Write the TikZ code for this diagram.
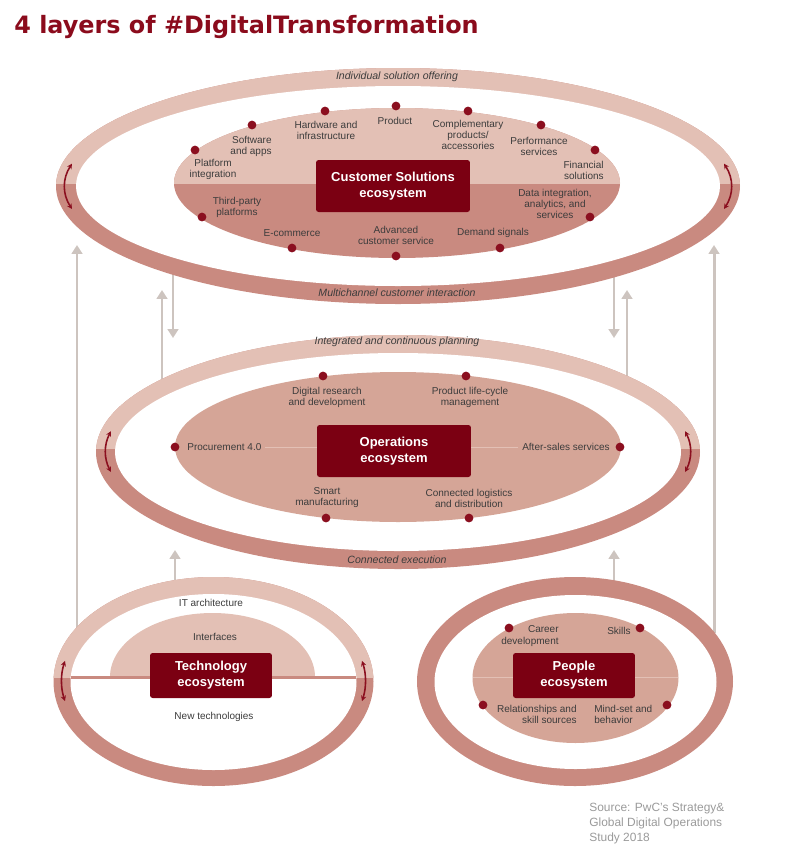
\documentclass[tikz,border=0pt]{standalone}
\usepackage{fontspec}
\setmainfont{Liberation Sans}
\newfontfamily\titlefont{DejaVu Sans}
\usetikzlibrary{arrows.meta}
\definecolor{pinklight}{HTML}{E3C0B5}
\definecolor{pinkdark}{HTML}{C98A80}
\definecolor{pinkmid}{HTML}{D5A597}
\definecolor{boxred}{HTML}{7B0012}
\definecolor{dotred}{HTML}{8B0F1F}
\definecolor{titlered}{HTML}{8B0B1C}
\definecolor{arrowgray}{HTML}{CDC4BF}
\definecolor{textgray}{HTML}{3C3C3C}
\definecolor{srcgray}{HTML}{9A9A9A}
\tikzset{
	titlestyle/.style={inner sep=0pt,text=titlered,font=\titlefont\bfseries\fontsize{13.6}{16}\selectfont},
	dotstyle/.style={circle,fill=dotred,inner sep=0pt,minimum size=5pt},
	labelstyle/.style={inner sep=0pt,text=textgray,font=\fontsize{5.7}{6.3}\selectfont},
	ringlabel/.style={inner sep=0pt,text=textgray,font=\fontsize{6}{7}\selectfont\itshape},
	bigbox/.style={rectangle,rounded corners=1.5pt,fill=boxred,text=white,align=center,minimum width=3.08cm,minimum height=1.04cm,font=\fontsize{7.4}{9}\selectfont\bfseries},
	smallbox/.style={bigbox,minimum width=2.44cm,minimum height=0.9cm},
	grayarrow/.style={draw=arrowgray,line width=1.7pt,-{Triangle[length=5pt,width=6pt]}},
	turnarrow/.style={draw=dotred,line width=0.9pt,{Stealth[length=3pt,width=3pt]}-{Stealth[length=3pt,width=3pt]}},
	splitline/.style={draw=pinklight,line width=0.4pt},
	sourcestyle/.style={inner sep=0pt,text=srcgray,align=left,font=\fontsize{6.8}{8.6}\selectfont}
}
\begin{document}
\begin{tikzpicture}[x=0.02cm,y=-0.02cm]
	\useasboundingbox (0,0) rectangle (792,849);
	\node[titlestyle,anchor=base west] (title) at (14,33) {4 layers of \#DigitalTransformation};
	\coordinate (lt1) at (77,628);
	\coordinate (lt2) at (77,245);
	\coordinate (lm1) at (162,382);
	\coordinate (lm2) at (162,290);
	\coordinate (ld1) at (173,273);
	\coordinate (ld2) at (173,338);
	\coordinate (rd1) at (614,273);
	\coordinate (rd2) at (614,338);
	\coordinate (rm1) at (627,382);
	\coordinate (rm2) at (627,290);
	\coordinate (rt1) at (714,633);
	\coordinate (rt2) at (714,245);
	\coordinate (tm1) at (175,581);
	\coordinate (tm2) at (175,550);
	\coordinate (pm1) at (614,581);
	\coordinate (pm2) at (614,550);
	\draw[grayarrow] (lt1)--(lt2);
	\draw[grayarrow] (lm1)--(lm2);
	\draw[grayarrow] (ld1)--(ld2);
	\draw[grayarrow] (rd1)--(rd2);
	\draw[grayarrow] (rm1)--(rm2);
	\draw[grayarrow] (rt1)--(rt2);
	\draw[grayarrow] (tm1)--(tm2);
	\draw[grayarrow] (pm1)--(pm2);
	\fill[pinkdark] (398,186) ellipse [x radius=342,y radius=118];
	\begin{scope}
		\clip (0,0) rectangle (792,183);
		\fill[pinklight] (398,186) ellipse [x radius=342,y radius=118];
	\end{scope}
	\fill[white] (398,186) ellipse [x radius=322,y radius=100];
	\fill[pinkdark] (397,183) ellipse [x radius=223,y radius=75];
	\begin{scope}
		\clip (0,0) rectangle (792,183);
		\fill[pinklight] (397,183) ellipse [x radius=223,y radius=75];
	\end{scope}
	\coordinate (csl) at (72,209);
	\coordinate (csr) at (724,209);
	\draw[turnarrow] (csl) arc [start angle=168,end angle=192,x radius=333,y radius=109];
	\draw[turnarrow] (csr) arc [start angle=12,end angle=-12,x radius=333,y radius=109];
	\node[ringlabel] (offer) at (397,77) {Individual solution offering};
	\node[ringlabel] (multi) at (397,293) {Multichannel customer interaction};
	\node[bigbox] (cs) at (393,186) {Customer Solutions\\ecosystem};
	\node[dotstyle] (d1) at (195,150) {};
	\node[dotstyle] (d2) at (252,125) {};
	\node[dotstyle] (d3) at (325,111) {};
	\node[dotstyle] (d4) at (396,106) {};
	\node[dotstyle] (d5) at (468,111) {};
	\node[dotstyle] (d6) at (541,125) {};
	\node[dotstyle] (d7) at (595,150) {};
	\node[dotstyle] (d8) at (590,217) {};
	\node[dotstyle] (d9) at (500,248) {};
	\node[dotstyle] (d10) at (396,256) {};
	\node[dotstyle] (d11) at (292,248) {};
	\node[dotstyle] (d12) at (202,217) {};
	\node[labelstyle,align=center] (plat) at (213,169) {Platform\\integration};
	\node[labelstyle,align=right,anchor=east] (soft) at (272,146) {Software\\and apps};
	\node[labelstyle,align=center] (hard) at (326,130) {Hardware and\\infrastructure};
	\node[labelstyle] (prod) at (395,121) {Product};
	\node[labelstyle,align=center] (comp) at (468,135) {Complementary\\products/\\accessories};
	\node[labelstyle,align=center] (perf) at (539,146) {Performance\\services};
	\node[labelstyle,align=right,anchor=east] (fin) at (604,170) {Financial\\solutions};
	\node[labelstyle,align=center] (data) at (555,204) {Data integration,\\analytics, and\\services};
	\node[labelstyle] (dem) at (493,233) {Demand signals};
	\node[labelstyle,align=center] (adv) at (396,235) {Advanced\\customer service};
	\node[labelstyle] (ecom) at (292,233) {E-commerce};
	\node[labelstyle,align=center] (third) at (237,207) {Third-party\\platforms};
	\fill[pinkdark] (398,452) ellipse [x radius=302,y radius=117];
	\begin{scope}
		\clip (0,0) rectangle (792,448);
		\fill[pinklight] (398,452) ellipse [x radius=302,y radius=117];
	\end{scope}
	\fill[white] (398,452) ellipse [x radius=283,y radius=99];
	\fill[pinkmid] (398,447) ellipse [x radius=223,y radius=75];
	\coordinate (opl) at (111,472);
	\coordinate (opr) at (685,472);
	\draw[turnarrow] (opl) arc [start angle=169,end angle=191,x radius=292,y radius=107];
	\draw[turnarrow] (opr) arc [start angle=11,end angle=-11,x radius=292,y radius=107];
	\node[ringlabel] (plan) at (397,342) {Integrated and continuous planning};
	\node[ringlabel] (exec) at (397,560) {Connected execution};
	\node[dotstyle] (o1) at (175,447) {};
	\node[dotstyle] (o2) at (620,447) {};
	\node[dotstyle] (o3) at (323,376) {};
	\node[dotstyle] (o4) at (466,376) {};
	\node[dotstyle] (o5) at (326,518) {};
	\node[dotstyle] (o6) at (469,518) {};
	\node[labelstyle,anchor=west] (proc) at (187,447) {Procurement 4.0};
	\node[labelstyle,anchor=east] (after) at (610,447) {After-sales services};
	\node[labelstyle,align=center] (digi) at (327,397) {Digital research\\and development};
	\node[labelstyle,align=center] (plm) at (470,397) {Product life-cycle\\management};
	\node[labelstyle,align=center] (smart) at (327,498) {Smart\\manufacturing};
	\node[labelstyle,align=center] (logi) at (469,498) {Connected logistics\\and distribution};
	\node[bigbox] (ops) at (394,451) {Operations\\ecosystem};
	\draw[splitline] ([xshift=2pt]proc.east)--(ops.west|-proc.east);
	\draw[splitline] (ops.east|-after.west)--([xshift=-2pt]after.west);
	\fill[pinkdark] (213.5,681.5) ellipse [x radius=160,y radius=104.5];
	\begin{scope}
		\clip (0,0) rectangle (792,677);
		\fill[pinklight] (213.5,681.5) ellipse [x radius=160,y radius=104.5];
		\fill[white] (213.5,682) ellipse [x radius=143,y radius=88];
		\fill[pinklight] (212.5,677) ellipse [x radius=102.5,y radius=64];
	\end{scope}
	\begin{scope}
		\clip (0,677) rectangle (792,849);
		\fill[white] (213.5,682) ellipse [x radius=143,y radius=88];
	\end{scope}
	\coordinate (tbl) at (71,677);
	\coordinate (tbr) at (356,677);
	\draw[pinkdark,line width=1.7pt] (tbl)--(tbr);
	\coordinate (tel) at (65,701);
	\coordinate (ter) at (362,701);
	\draw[turnarrow] (tel) arc [start angle=168,end angle=192,x radius=151.5,y radius=96.5];
	\draw[turnarrow] (ter) arc [start angle=12,end angle=-12,x radius=151.5,y radius=96.5];
	\node[labelstyle] (itarch) at (211,603) {IT architecture};
	\node[labelstyle] (inter) at (215,637) {Interfaces};
	\node[labelstyle] (newtech) at (214,717) {New technologies};
	\node[smallbox] (tech) at (211,675.5) {Technology\\ecosystem};
	\fill[pinkdark] (575,681.5) ellipse [x radius=158,y radius=104.5];
	\fill[white] (575.5,682) ellipse [x radius=141,y radius=87];
	\fill[pinkmid] (575.5,678) ellipse [x radius=103,y radius=65];
	\coordinate (pel) at (473,677);
	\coordinate (per) at (678,677);
	\node[smallbox] (people) at (574,675.5) {People\\ecosystem};
	\draw[splitline] (pel)--(people.west|-pel);
	\draw[splitline] (people.east|-per)--(per);
	\node[dotstyle] (p1) at (509,628) {};
	\node[dotstyle] (p2) at (640,628) {};
	\node[dotstyle] (p3) at (483,705) {};
	\node[dotstyle] (p4) at (667,705) {};
	\node[labelstyle,align=right,anchor=east] (career) at (559,636) {Career\\development};
	\node[labelstyle,anchor=east] (skills) at (631,631) {Skills};
	\node[labelstyle,align=right,anchor=east] (relat) at (577,714) {Relationships and\\skill sources};
	\node[labelstyle,align=left,anchor=west] (mind) at (594,714) {Mind-set and\\behavior};
	\node[sourcestyle,anchor=north west] (source) at (589,803) {Source: PwC's Strategy\&\\Global Digital Operations\\Study 2018};
\end{tikzpicture}
\end{document}
